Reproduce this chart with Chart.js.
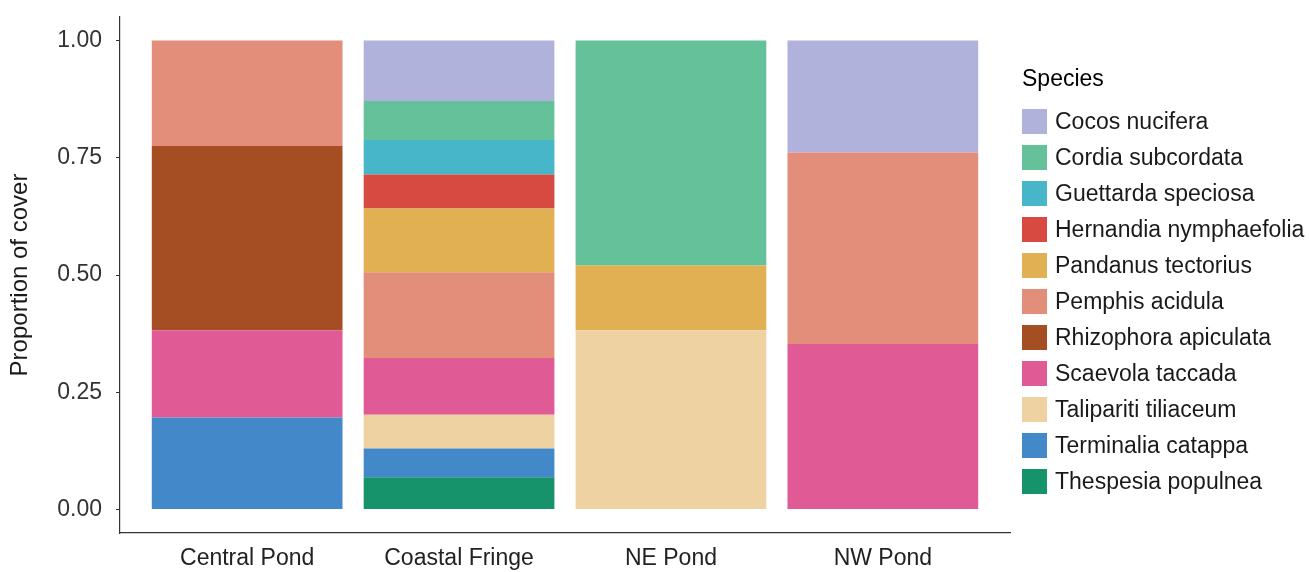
<!DOCTYPE html>
<html lang="en">
<head>
    <meta charset="UTF-8">
    <title>Proportion of cover by species</title>
    <script src="https://cdn.jsdelivr.net/npm/chart.js"></script>
    <style>
        body {
            margin: 0;
            background: #fff;
            font-family: "Liberation Sans", Arial, sans-serif;
        }
        .wrap {
            position: relative;
            width: 1309px;
            height: 572px;
        }
        .legend {
            position: absolute;
            left: 1022px;
            top: 65px;
            color: #1a1a1a;
        }
        .legend h4 {
            margin: 0 0 11px 0;
            font-weight: normal;
            font-size: 23px;
            line-height: 27px;
            color: #000;
        }
        .legend .item {
            display: flex;
            align-items: center;
            height: 36px;
            font-size: 23px;
            white-space: nowrap;
        }
        .legend .swatch {
            width: 25px;
            height: 25px;
            margin-right: 8px;
        }
    </style>
</head>
<body>
    <div class="wrap">
        <canvas id="chart" width="1309" height="572"></canvas>
        <div class="legend" id="legend"><h4>Species</h4></div>
    </div>

    <script>
        // sites on the x axis
        const sites = ['Central Pond', 'Coastal Fringe', 'NE Pond', 'NW Pond'];

        // species, in legend order (top of stack first)
        const species = [
            'Cocos nucifera', 'Cordia subcordata', 'Guettarda speciosa', 'Hernandia nymphaefolia',
            'Pandanus tectorius', 'Pemphis acidula', 'Rhizophora apiculata', 'Scaevola taccada',
            'Talipariti tiliaceum', 'Terminalia catappa', 'Thespesia populnea'
        ];

        const colors = [
            '#B0B2DB', '#65C19A', '#47B6C8', '#D64A42',
            '#E1B052', '#E28E7B', '#A54D23', '#E05A95',
            '#EED2A1', '#4388C9', '#17936C'
        ];

        // proportion of cover per site (Central, Coastal, NE, NW)
        const cocos      = [0,     0.129, 0,     0.239];
        const cordia     = [0,     0.083, 0.480, 0];
        const guettarda  = [0,     0.074, 0,     0];
        const hernandia  = [0,     0.072, 0,     0];
        const pandanus   = [0,     0.136, 0.138, 0];
        const pemphis    = [0.225, 0.183, 0,     0.408];
        const rhizophora = [0.393, 0,     0,     0];
        const scaevola   = [0.186, 0.121, 0,     0.353];
        const talipariti = [0,     0.072, 0.382, 0];
        const terminalia = [0.196, 0.061, 0,     0];
        const thespesia  = [0,     0.069, 0,     0];

        const yTicks = [0, 0.25, 0.5, 0.75, 1];

        const values = [cocos, cordia, guettarda, hernandia, pandanus, pemphis,
                        rhizophora, scaevola, talipariti, terminalia, thespesia];

        // Chart.js stacks from the first dataset up, so go bottom to top
        const datasets = species.map((name, i) => ({
            label: name,
            data: values[i].map((v, j) => ({ x: j, y: v })),
            backgroundColor: colors[i],
            borderWidth: 0,
            categoryPercentage: 1,
            barPercentage: 0.9
        })).reverse();

        const axisFont = { family: '"Liberation Sans", Arial, sans-serif', size: 23 };

        new Chart(document.getElementById('chart'), {
            type: 'bar',
            data: { datasets: datasets },
            options: {
                responsive: false,
                animation: false,
                layout: { padding: { top: 17, right: 299, bottom: 0, left: 0 } },
                plugins: {
                    legend: { display: false },
                    tooltip: { enabled: false }
                },
                scales: {
                    x: {
                        type: 'linear',
                        stacked: true,
                        offset: false,
                        min: -0.6,
                        max: 3.6,
                        afterBuildTicks: (axis) => { axis.ticks = sites.map((s, i) => ({ value: i })); },
                        afterFit: (scale) => {
                            scale.height = 39;
                            scale.paddingLeft = 0;
                            scale.paddingRight = 0;
                        },
                        grid: { display: true, offset: false, drawOnChartArea: false, drawTicks: false },
                        border: { display: true, color: '#333', width: 1.2 },
                        ticks: {
                            padding: 12,
                            color: '#222',
                            font: axisFont,
                            maxRotation: 0,
                            callback: (v) => sites[v]
                        }
                    },
                    y: {
                        stacked: true,
                        min: -0.05,
                        max: 1.05,
                        afterBuildTicks: (axis) => { axis.ticks = yTicks.map(v => ({ value: v })); },
                        afterFit: (scale) => {
                            scale.width = 120;
                            scale.paddingTop = 0;
                            scale.paddingBottom = 0;
                        },
                        grid: { display: true, drawOnChartArea: false, drawTicks: true, tickLength: 4, color: '#333' },
                        border: { display: true, color: '#333', width: 1.2 },
                        ticks: {
                            padding: 14,
                            color: '#333',
                            font: axisFont,
                            callback: (v) => v.toFixed(2)
                        },
                        title: {
                            display: true,
                            text: 'Proportion of cover',
                            color: '#1a1a1a',
                            font: { family: '"Liberation Sans", Arial, sans-serif', size: 24 },
                            padding: { top: 6, bottom: 0 }
                        }
                    }
                }
            }
        });

        // legend next to the plot, same order as the reference
        const legendEl = document.getElementById('legend');
        species.forEach((name, i) => {
            const row = document.createElement('div');
            row.className = 'item';
            const sw = document.createElement('span');
            sw.className = 'swatch';
            sw.style.background = colors[i];
            row.appendChild(sw);
            row.appendChild(document.createTextNode(name));
            legendEl.appendChild(row);
        });
    </script>
</body>
</html>
